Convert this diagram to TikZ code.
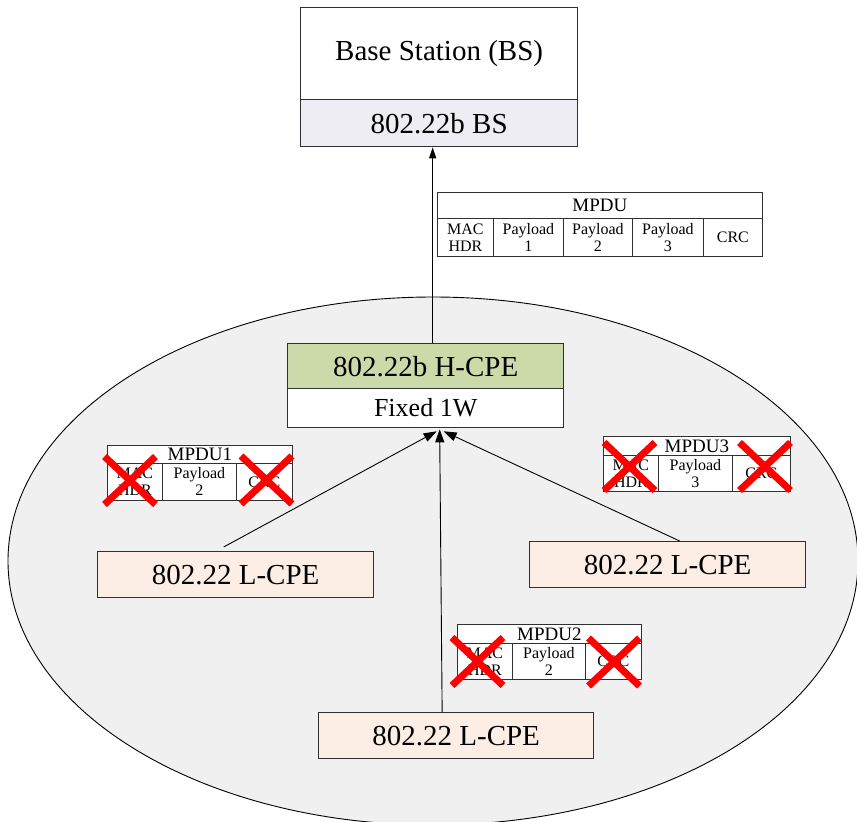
\documentclass[tikz,border=0pt]{standalone}
\usepackage{fontspec}
\setmainfont{Liberation Serif}
\usetikzlibrary{arrows.meta,shapes.misc,calc}
\definecolor{bsgray}{HTML}{EEEDF3}
\definecolor{hgreen}{HTML}{CCDAA9}
\definecolor{lpeach}{HTML}{FCEEE4}
\definecolor{ellgray}{HTML}{F0F0F0}
\definecolor{edge}{HTML}{303030}
\begin{document}
\begin{tikzpicture}[x=1pt,y=-1pt,
  box/.style={draw=edge,line width=1.3pt,inner sep=0pt,anchor=north west,align=center},
  bigfont/.style={font=\fontsize{29}{34}\selectfont},
  cell/.style={draw=edge,line width=0.8pt,fill=white,inner sep=0pt,anchor=north west,align=center,font=\fontsize{16}{17}\selectfont},
  ttl/.style={cell,font=\fontsize{19}{20}\selectfont},
  xmark/.style={cross out,draw=red,line width=7pt,minimum width=44pt,minimum height=41pt,inner sep=0pt},
  conn/.style={line width=0.9pt,-{Triangle[length=13pt,width=9pt]}},
  upconn/.style={line width=0.9pt,-{Triangle[length=11pt,width=7pt]}},
]
\useasboundingbox (0,0) rectangle (857,822);

% coverage area
\draw[fill=ellgray,line width=0.9pt] (433,561) ellipse [x radius=425pt, y radius=264pt];

% base station
\node[box,fill=white,bigfont,minimum width=277pt,minimum height=92pt] (bstop) at (300,7) {Base Station (BS)};
\node[box,fill=bsgray,bigfont,minimum width=277pt,minimum height=47pt] (bsbot) at (300,99) {802.22b BS};

% H-CPE
\node[box,fill=hgreen,bigfont,minimum width=276pt,minimum height=45pt] (hcpe) at (287,343) {802.22b H-CPE};
\node[box,fill=white,font=\fontsize{26}{30}\selectfont,minimum width=276pt,minimum height=39pt] (fixed) at (287,388) {Fixed 1W};

% L-CPEs
\node[box,fill=lpeach,bigfont,minimum width=276pt,minimum height=46pt] (lcpeL) at (97,551) {802.22 L-CPE};
\node[box,fill=lpeach,bigfont,minimum width=276pt,minimum height=46pt] (lcpeR) at (529,541) {802.22 L-CPE};
\node[box,fill=lpeach,bigfont,minimum width=275pt,minimum height=46pt] (lcpeB) at (318,712) {802.22 L-CPE};

% connectors
\draw[upconn] ([xshift=7pt]hcpe.north) -- ([xshift=7pt]hcpe.north |- bsbot.south);
\coordinate (tipL) at ([xshift=11pt,yshift=-3pt]fixed.south);
\coordinate (tipM) at ([xshift=14pt,yshift=-1pt]fixed.south);
\coordinate (tipR) at ([xshift=18pt,yshift=-3pt]fixed.south);
\draw[conn] ([xshift=-12pt,yshift=4pt]lcpeL.north) -- (tipL);
\draw[conn] ([xshift=-14pt]lcpeB.north) -- (tipM);
\draw[conn] ([xshift=12pt]lcpeR.north) -- (tipR);

% MPDU (top)
\node[ttl,minimum width=325pt,minimum height=26pt] (m0t) at (437,192) {MPDU};
\node[cell,minimum width=56pt,minimum height=38pt] (m0a) at (437,218) {MAC\\HDR};
\node[cell,minimum width=70pt,minimum height=38pt] (m0b) at (493,218) {Payload\\1};
\node[cell,minimum width=69pt,minimum height=38pt] (m0c) at (563,218) {Payload\\2};
\node[cell,minimum width=71pt,minimum height=38pt] (m0d) at (632,218) {Payload\\3};
\node[cell,minimum width=59pt,minimum height=38pt] (m0e) at (703,218) {CRC};

% MPDU1
\node[ttl,minimum width=185pt,minimum height=18pt] (m1t) at (107,445) {MPDU1};
\node[cell,minimum width=55pt,minimum height=37pt] (m1a) at (107,463) {MAC\\HDR};
\node[cell,minimum width=74pt,minimum height=37pt] (m1b) at (162,463) {Payload\\2};
\node[cell,minimum width=56pt,minimum height=37pt] (m1c) at (236,463) {CRC};

% MPDU3
\node[ttl,minimum width=187pt,minimum height=19pt] (m3t) at (603,436) {MPDU3};
\node[cell,minimum width=55pt,minimum height=36pt] (m3a) at (603,455) {MAC\\HDR};
\node[cell,minimum width=74pt,minimum height=36pt] (m3b) at (658,455) {Payload\\3};
\node[cell,minimum width=58pt,minimum height=36pt] (m3c) at (732,455) {CRC};

% MPDU2
\node[ttl,minimum width=184pt,minimum height=19pt] (m2t) at (457,624) {MPDU2};
\node[cell,minimum width=55pt,minimum height=36pt] (m2a) at (457,643) {MAC\\HDR};
\node[cell,minimum width=73pt,minimum height=36pt] (m2b) at (512,643) {Payload\\2};
\node[cell,minimum width=56pt,minimum height=36pt] (m2c) at (585,643) {CRC};

% red crosses
\node[xmark] (x1a) at (130,480.5) {};
\node[xmark] (x1c) at (266.5,480) {};
\node[xmark] (x3a) at (629.5,466.5) {};
\node[xmark] (x3c) at (765,466.5) {};
\node[xmark] (x2a) at (477.5,661.5) {};
\node[xmark] (x2c) at (614,662) {};
\end{tikzpicture}
\end{document}
